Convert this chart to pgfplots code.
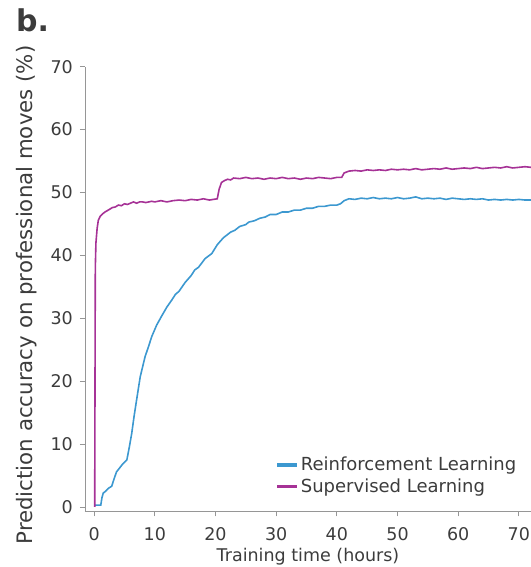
\documentclass[border=0pt]{standalone}
\usepackage{pgfplots}
\pgfplotsset{compat=1.18}
\usepackage{fontspec}
\setmainfont{DejaVu Sans}
\definecolor{rlblue}{RGB}{60,152,208}
\definecolor{slpurple}{RGB}{166,50,150}
\definecolor{axgray}{RGB}{150,150,150}
\definecolor{txtgray}{RGB}{60,60,60}
\begin{document}
\fontsize{18}{21}\selectfont
\begin{tikzpicture}
\begin{axis}[
  scale only axis,
  width=446pt, height=444.7pt,
  xmin=-1.5, xmax=72, ymin=-0.7, ymax=70,
  axis lines*=left,
  axis line style={axgray, line width=0.8pt, -},
  xtick={0,10,...,70}, ytick={0,10,...,70},
  tick style={axgray, line width=0.8pt},
  tick align=outside,
  major tick length=5pt,
  tick label style={txtgray, font=\fontsize{17.5}{21}\selectfont},
  xticklabel style={yshift=-5pt},
  yticklabel style={xshift=-1pt},
  /pgf/number format/assume math mode=true,
  xlabel={Training time (hours)},
  ylabel={Prediction accuracy on professional moves (\%)},
  label style={txtgray},
  xlabel style={font=\fontsize{17.5}{21}\selectfont, yshift=5pt},
  ylabel style={font=\fontsize{21.3}{25}\selectfont, at={(axis description cs:-0.132,0.4866)}, anchor=center, rotate=0},
  legend style={draw=none, fill=none, at={(0.972,0.128)}, anchor=north east,
    font=\fontsize{18}{21}\selectfont, text=txtgray, row sep=1.5pt, inner sep=0pt},
  legend cell align=left,
  legend image code/.code={\draw[#1, line width=3.5pt] (0pt,0pt) -- (20pt,0pt);},
  clip=false,
]
\addplot[rlblue, line width=1.6pt] coordinates {
(0.1,0.3) (0.5,0.3) (1.1,0.3) (1.3,1.5) (1.5,2.2) (2.0,2.6) (2.4,3.0) (2.9,3.3) (3.3,4.5) (3.7,5.6) (4.2,6.2) (4.6,6.7) (5.0,7.1) (5.4,7.5) (5.8,9.5) (6.2,11.7) (6.6,14.5) (7.0,17.0) (7.6,20.7) (8.0,22.3) (8.4,23.9) (9.0,25.6) (9.5,27.1) (10.3,28.9) (11.1,30.3) (12.0,31.8) (12.8,32.9) (13.4,33.8) (14.0,34.3) (15.0,35.7) (16.0,36.8) (16.6,37.7) (17.2,38.1) (18.3,39.5) (19.4,40.3) (20.3,41.7) (21.3,42.8) (22.5,43.7) (23.2,44.0) (24,44.6) (25.0,44.9) (25.5,45.3) (26.4,45.5) (27.3,45.9) (28.2,46.1) (29,46.5) (30,46.5) (31,46.9) (32,46.9) (33,47.2) (34,47.2) (35,47.5) (36,47.5) (37,47.8) (38,47.8) (39,48.0) (40,48.0) (40.6,48.2) (41.2,48.7) (42,49.0) (43,48.9) (44,49.1) (45,49.0) (46,49.2) (47,49.0) (48,49.1) (49,49.0) (50,49.2) (51,49.0) (52,49.1) (53,49.3) (54,49.0) (55,49.1) (56,49.0) (57,49.1) (58,48.9) (59,49.1) (60,49.0) (61,48.9) (62,49.0) (63,48.9) (64,49.0) (65,48.8) (66,48.9) (67,48.8) (68,48.9) (69,48.8) (70,48.9) (71,48.8) (72,48.8)
};
\addlegendentry{Reinforcement Learning}
\addplot[slpurple, line width=1.6pt] coordinates {
(0.1,0) (0.15,20) (0.2,38) (0.3,42) (0.5,44.3) (0.7,45.6) (1.0,46.2) (1.4,46.6) (1.8,46.9) (2.5,47.3) (3,47.6) (3.5,47.7) (4,48.0) (4.5,47.9) (5,48.2) (5.5,48.1) (6,48.3) (6.5,48.5) (7,48.3) (7.5,48.5) (8,48.5) (8.5,48.4) (9.5,48.6) (10,48.5) (11,48.7) (12,48.5) (13,48.7) (14,48.8) (15,48.7) (16,48.9) (17,48.8) (18,49.0) (19,48.8) (20.3,49.0) (20.6,50.5) (21,51.6) (21.5,51.9) (22,52.1) (22.5,52.0) (23,52.3) (24,52.2) (25,52.4) (26,52.2) (27,52.3) (28,52.1) (29,52.3) (30,52.2) (31,52.4) (32,52.2) (33,52.3) (34,52.1) (35,52.3) (36,52.2) (37,52.4) (38,52.3) (39,52.2) (40,52.4) (40.8,52.4) (41.2,53.1) (42,53.4) (43,53.5) (44,53.4) (45,53.6) (46,53.5) (47,53.6) (48,53.5) (49,53.7) (50,53.6) (51,53.7) (52,53.6) (53,53.8) (54,53.6) (55,53.7) (56,53.8) (57,53.7) (58,53.9) (59,53.7) (60,53.8) (61,53.9) (62,53.8) (63,54.0) (64,53.8) (65,53.9) (66,54.0) (67,53.9) (68,54.1) (69,53.9) (70,54.0) (71,54.1) (72,54.0)
};
\addlegendentry{Supervised Learning}
\end{axis}
\node[anchor=north west, font=\fontsize{30}{32}\selectfont\bfseries, txtgray, inner sep=0pt]
  at ([shift={(-69pt,58pt)}]current axis.north west) {b.};
\pgfresetboundingbox
\path ([shift={(-85pt,-55.6pt)}]current axis.south west) rectangle ([shift={(0pt,66.7pt)}]current axis.north east);
\end{tikzpicture}
\end{document}
